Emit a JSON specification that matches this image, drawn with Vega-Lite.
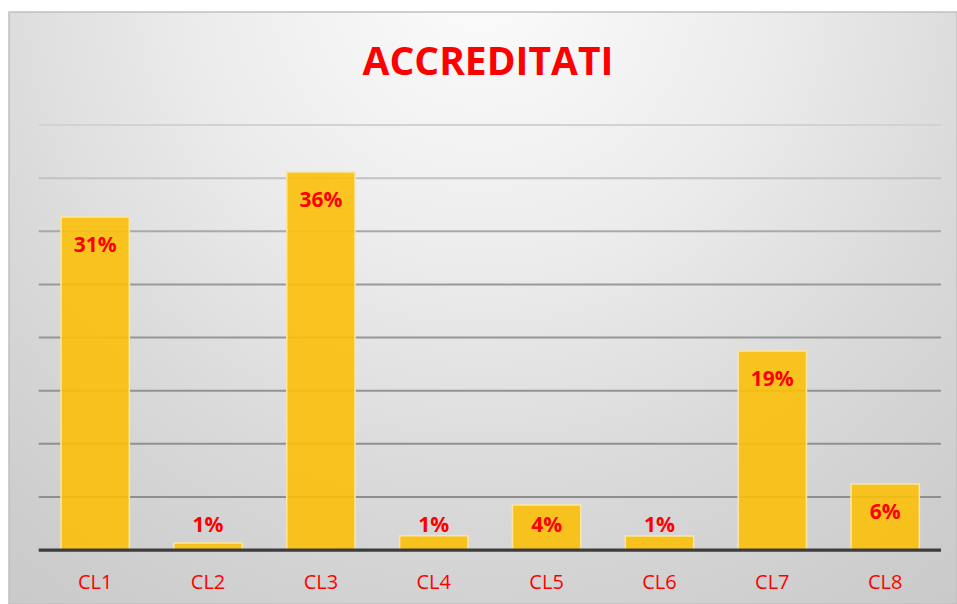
{
  "$schema": "https://vega.github.io/schema/vega-lite/v6.json",
  "width": 948,
  "height": 592,
  "autosize": {"type": "none"},
  "padding": {"left": 9, "top": 12, "right": 0, "bottom": 0},
  "background": "#ffffff",
  "title": {
    "text": "ACCREDITATI",
    "font": "Open Sans",
    "fontSize": 39,
    "fontWeight": "bold",
    "color": "#ff0000",
    "anchor": "middle",
    "frame": "group",
    "baseline": "alphabetic",
    "offset": -65,
    "dx": 5,
    "dy": 37
  },
  "config": {
    "view": {
      "stroke": "#c0c0c0",
      "strokeWidth": 1.5,
      "fill": {
        "gradient": "radial",
        "x1": 0.5, "y1": 0.15, "r1": 0,
        "x2": 0.5, "y2": 0.15, "r2": 1.0,
        "stops": [
          {"offset": 0, "color": "#fcfcfc"},
          {"offset": 0.3, "color": "#ececec"},
          {"offset": 0.55, "color": "#d9d9d9"},
          {"offset": 0.75, "color": "#cdcdcd"},
          {"offset": 1, "color": "#c4c4c4"}
        ]
      }
    }
  },
  "datasets": {
    "bars": [
      {"cat": "CL1", "v": 0.3134},
      {"cat": "CL2", "v": 0.0066},
      {"cat": "CL3", "v": 0.3558},
      {"cat": "CL4", "v": 0.0135},
      {"cat": "CL5", "v": 0.0424},
      {"cat": "CL6", "v": 0.0132},
      {"cat": "CL7", "v": 0.1873},
      {"cat": "CL8", "v": 0.0621}
    ],
    "grid": [
      {"g": 0.05}, {"g": 0.10}, {"g": 0.15}, {"g": 0.20},
      {"g": 0.25}, {"g": 0.30}, {"g": 0.35}, {"g": 0.40}
    ],
    "base": [{"g": 0}]
  },
  "layer": [
    {
      "data": {"name": "grid"},
      "mark": {"type": "rule", "strokeWidth": 2},
      "encoding": {
        "y": {"field": "g", "type": "quantitative", "scale": {"domain": [-0.0508, 0.5064], "nice": false, "zero": false}, "axis": null},
        "x": {"datum": "CL1", "type": "nominal", "bandPosition": -0.327,
              "scale": {"paddingInner": 0.395, "paddingOuter": 0.3975, "align": 0.58},
              "axis": {"orient": "bottom", "offset": -54, "domain": false, "ticks": false, "tickSize": 0,
                       "grid": false, "labelPadding": 22, "labelAngle": 0, "labelFont": "Open Sans",
                       "labelFontSize": 20, "labelColor": "#ff0000", "title": null}},
        "x2": {"datum": "CL8", "bandPosition": 1.3175},
        "color": {"field": "g", "type": "quantitative",
                  "scale": {"domain": [0.05, 0.25, 0.3, 0.35, 0.4], "range": ["#8e8e8e", "#999999", "#a9a9a9", "#c2c2c2", "#d2d2d2"]},
                  "legend": null}
      }
    },
    {
      "data": {"name": "bars"},
      "mark": {"type": "bar", "fill": "#fcc00a", "fillOpacity": 0.9, "stroke": "#fbe6a2", "strokeWidth": 1.5},
      "encoding": {
        "x": {"field": "cat", "type": "nominal",
              "scale": {"paddingInner": 0.395, "paddingOuter": 0.3975, "align": 0.58},
              "axis": {"orient": "bottom", "offset": -54, "domain": false, "ticks": false, "tickSize": 0,
                       "grid": false, "labelPadding": 22, "labelAngle": 0, "labelFont": "Open Sans",
                       "labelFontSize": 20, "labelColor": "#ff0000", "title": null}},
        "y": {"field": "v", "type": "quantitative", "scale": {"domain": [-0.0508, 0.5064], "nice": false, "zero": false}, "axis": null}
      }
    },
    {
      "data": {"name": "base"},
      "mark": {"type": "rule", "strokeWidth": 3.2, "color": "#3c3c3c"},
      "encoding": {
        "y": {"field": "g", "type": "quantitative", "scale": {"domain": [-0.0508, 0.5064], "nice": false, "zero": false}, "axis": null},
        "x": {"datum": "CL1", "type": "nominal", "bandPosition": -0.327,
              "scale": {"paddingInner": 0.395, "paddingOuter": 0.3975, "align": 0.58},
              "axis": {"orient": "bottom", "offset": -54, "domain": false, "ticks": false, "tickSize": 0,
                       "grid": false, "labelPadding": 22, "labelAngle": 0, "labelFont": "Open Sans",
                       "labelFontSize": 20, "labelColor": "#ff0000", "title": null}},
        "x2": {"datum": "CL8", "bandPosition": 1.3175}
      }
    },
    {
      "data": {"name": "bars"},
      "transform": [{"calculate": "max(datum.v, 0.05)", "as": "ly"}],
      "mark": {"type": "text", "font": "Open Sans", "fontSize": 21, "fontWeight": "bold", "color": "#ff0000", "baseline": "middle", "dy": 29},
      "encoding": {
        "x": {"field": "cat", "type": "nominal",
              "scale": {"paddingInner": 0.395, "paddingOuter": 0.3975, "align": 0.58},
              "axis": {"orient": "bottom", "offset": -54, "domain": false, "ticks": false, "tickSize": 0,
                       "grid": false, "labelPadding": 22, "labelAngle": 0, "labelFont": "Open Sans",
                       "labelFontSize": 20, "labelColor": "#ff0000", "title": null}},
        "y": {"field": "ly", "type": "quantitative", "scale": {"domain": [-0.0508, 0.5064], "nice": false, "zero": false}, "axis": null},
        "text": {"field": "v", "type": "quantitative", "format": ".0%"}
      }
    }
  ]
}
